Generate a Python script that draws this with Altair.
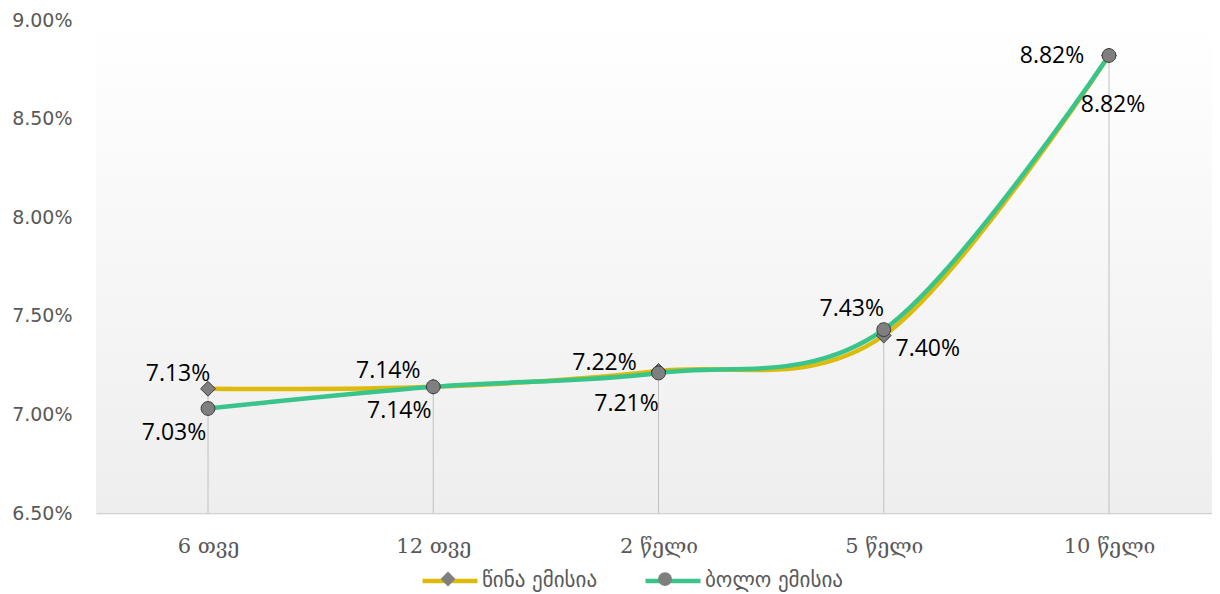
import altair as alt
import pandas as pd

categories = ["6 თვე", "12 თვე", "2 წელი", "5 წელი", "10 წელი"]
series_names = ["წინა ემისია", "ბოლო ემისია"]
prev_issue = [7.13, 7.14, 7.22, 7.40, 8.82]
last_issue = [7.03, 7.14, 7.21, 7.43, 8.82]
y_ticks = [6.50, 7.00, 7.50, 8.00, 8.50, 9.00]

# label placement (pixel offsets from the marker), per series and category
LABEL_OFFSETS = {
    "წინა ემისია": [(-30, -15), (-45, -16), (-54, -8), (44, 13), (-57, 1)],
    "ბოლო ემისია": [(-34, 25), (-34, 24), (-32, 31), (-32, -21), (4, 50)],
}

W, H = 1116, 493
Y_MIN, Y_MAX = y_ticks[0] / 100, y_ticks[-1] / 100
STEP = 225.25
FIRST = 112
X_MIN = -FIRST / STEP
X_MAX = (W - FIRST) / STEP

rows = []
for s, vals in zip(series_names, [prev_issue, last_issue]):
    for i, (c, v) in enumerate(zip(categories, vals)):
        dx, dy = LABEL_OFFSETS[s][i]
        rows.append({"idx": i, "cat": c, "series": s, "value": v / 100,
                     "label": f"{v:.2f}%", "dx": dx, "dy": dy})
df = pd.DataFrame(rows)

drop = pd.DataFrame({
    "idx": list(range(len(categories))),
    "top": [max(a, b) / 100 for a, b in zip(prev_issue, last_issue)],
    "bottom": [Y_MIN] * len(categories),
})

cat_js = "[" + ",".join(f"'{c}'" for c in categories) + "]"
xscale = alt.Scale(domain=[X_MIN, X_MAX], nice=False, zero=False)
xenc = alt.X("idx:Q", scale=xscale,
             axis=alt.Axis(title=None, values=list(range(len(categories))),
                           labelExpr=f"{cat_js}[datum.value]",
                           labelAngle=0, ticks=False, grid=False, domain=True,
                           domainColor="#d0d0d0", domainWidth=1.5,
                           labelFont="DejaVu Serif", labelFontSize=21,
                           labelColor="#595959", labelPadding=22))
yscale = alt.Scale(domain=[Y_MIN, Y_MAX], nice=False, zero=False)
yenc = alt.Y("value:Q", scale=yscale,
             axis=alt.Axis(title=None, format=".2%", values=[t / 100 for t in y_ticks],
                           grid=False, ticks=False, domain=False,
                           labelFont="DejaVu Sans", labelFontSize=19,
                           labelColor="#595959", labelPadding=24))

colors = ["#DDBB0A", "#38C48A"]

bg = alt.Chart(pd.DataFrame({"a": [0]})).mark_rect(
    color=alt.LinearGradient(gradient="linear", x1=0, y1=0, x2=0, y2=1,
                             stops=[alt.GradientStop(offset=0, color="#ffffff"),
                                    alt.GradientStop(offset=1, color="#eeeeee")])
).encode(x=alt.value(0), x2=alt.value(W), y=alt.value(0), y2=alt.value(H))

drops = alt.Chart(drop).mark_rule(color="#c0c0c0", strokeWidth=1).encode(
    x=alt.X("idx:Q", scale=xscale),
    y=alt.Y("top:Q", scale=yscale),
    y2="bottom:Q",
)

LEG_X, LEG_Y = 324, 531
LEG_FONT = 21
LEG_GAP = 38

lines = alt.Chart(df).mark_line(interpolate="cardinal", strokeWidth=4.5, strokeCap="round").encode(
    x=xenc,
    y=yenc,
    color=alt.Color("series:N", scale=alt.Scale(domain=series_names, range=colors),
                    legend=alt.Legend(title=None, orient="none", direction="horizontal",
                                      legendX=LEG_X, legendY=LEG_Y,
                                      symbolType="stroke", symbolSize=3025,
                                      symbolStrokeWidth=4.5,
                                      labelFont="DejaVu Sans", labelFontSize=LEG_FONT,
                                      labelColor="#595959", labelOffset=2,
                                      columnPadding=LEG_GAP)),
)

# marker shapes; the leading move-to points only widen the legend symbol bounds
diamond = "M-1,0M1,0M0,-0.27L0.27,0L0,0.27L-0.27,0Z"
circle = "M-1,0M1,0M0.25,0A0.25,0.25 0 1,1 -0.25,0A0.25,0.25 0 1,1 0.25,0Z"

points = alt.Chart(df).mark_point(filled=True, size=3025, fill="#7f7f7f", stroke="#3a3a3a",
                                  strokeWidth=1, opacity=1).encode(
    x=xenc,
    y=yenc,
    shape=alt.Shape("series:N", sort=series_names,
                    scale=alt.Scale(range=[diamond, circle]),
                    legend=alt.Legend(title=None, orient="none", direction="horizontal",
                                      legendX=LEG_X, legendY=LEG_Y,
                                      symbolSize=3025, symbolStrokeWidth=1,
                                      symbolFillColor="#7f7f7f", symbolStrokeColor="#3a3a3a",
                                      labelFont="DejaVu Sans", labelFontSize=LEG_FONT,
                                      labelColor="#595959", labelOpacity=0,
                                      labelOffset=5.5, columnPadding=LEG_GAP)),
    order=alt.Order("series:N", sort="descending"),
)

labels = alt.Chart(df).transform_calculate(
    lx=f"datum.idx + datum.dx / {STEP}",
    ly=f"datum.value - datum.dy * {(Y_MAX - Y_MIN) / H}",
).mark_text(font="Open Sans", fontSize=23, color="#000000").encode(
    x=alt.X("lx:Q", scale=xscale),
    y=alt.Y("ly:Q", scale=yscale),
    text="label:N",
)

chart = alt.layer(bg, drops, lines, points, labels).properties(
    width=W, height=H,
    autosize=alt.AutoSizeParams(type="none"),
    padding={"left": 88, "top": 12, "right": 0, "bottom": 79},
).configure_view(stroke=None)

chart.save("out.html", embed_options={"renderer": "svg", "actions": False})
